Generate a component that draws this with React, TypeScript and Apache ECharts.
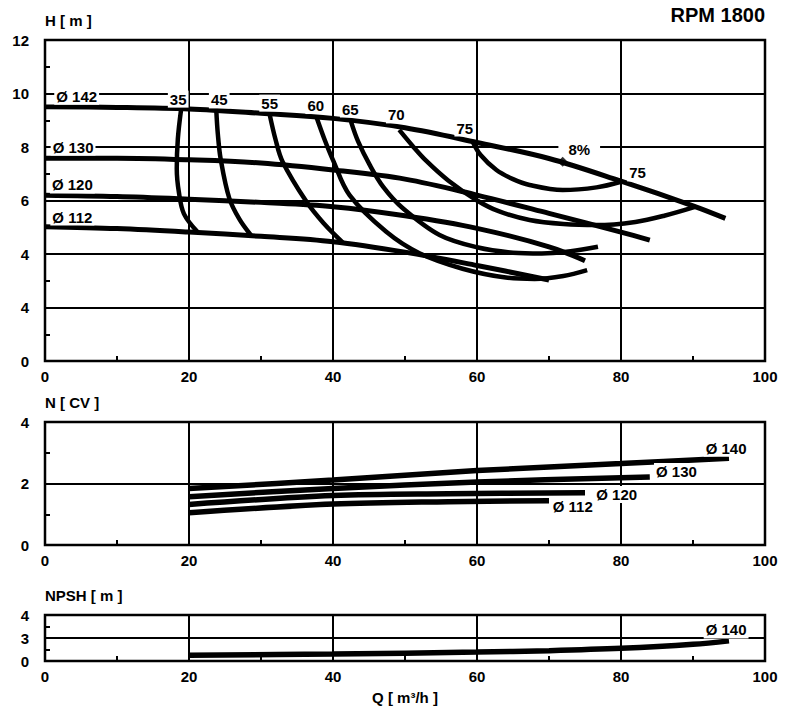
import React, { useEffect, useRef } from "react";
import * as echarts from "echarts";

const FONT = "'Liberation Sans', Arial, Helvetica, sans-serif";

// Flow axis (shared by the three panels)
const qTicks = [0, 20, 40, 60, 80, 100];

// Tick labels as printed on the sheet (values 0,2,4,... on the axes)
const headTickLabels = ["0", "4", "4", "6", "8", "10", "12"];
const powerTickLabels = ["0", "2", "4"];
const npshTickLabels = ["0", "3", "4"];

// Head curves H [m] vs Q [m3/h]
const head142 = [[0, 9.5], [10, 9.48], [20, 9.42], [30, 9.26], [40, 9.07], [50, 8.72], [60, 8.17], [70, 7.57], [80, 6.72], [90, 5.8], [94.5, 5.33]];
const head130 = [[0, 7.58], [10, 7.58], [20, 7.52], [30, 7.4], [40, 7.14], [50, 6.8], [60, 6.2], [70, 5.52], [80, 4.82], [84, 4.52]];
const head120 = [[0, 6.2], [10, 6.15], [20, 6.05], [30, 5.93], [40, 5.77], [50, 5.43], [60, 4.96], [70, 4.27], [75, 3.75]];
const head112 = [[0, 5.02], [10, 4.95], [20, 4.82], [30, 4.66], [40, 4.46], [50, 4.07], [60, 3.57], [70, 3.03]];

// Iso-efficiency curves
const eff35 = [[18.9, 9.4], [18.45, 8.3], [18.3, 7.2], [18.6, 6.3], [19.3, 5.5], [21.2, 4.82]];
const eff45 = [[23.8, 9.32], [24.0, 8.5], [24.4, 7.55], [25.6, 6.08], [27, 5.3], [28.6, 4.7]];
const eff55 = [[31.2, 9.22], [32, 8.3], [33, 7.45], [36.3, 5.96], [38.7, 5.15], [41.4, 4.42]];
const eff60 = [[37.7, 9.12], [38.8, 8.3], [40, 7.51], [42.3, 6.2], [47.4, 4.83], [52, 4.03], [58, 3.45], [64, 3.12], [68, 3.07], [72, 3.18], [75.3, 3.4]];
const eff65 = [[42.5, 8.95], [43.5, 8.2], [45.1, 7.33], [47, 6.5], [49.7, 5.71], [54.8, 4.71], [60, 4.25], [65, 4.05], [69, 4.02], [73, 4.1], [76.8, 4.27]];
const eff70 = [[49.2, 8.64], [51, 8.06], [53, 7.47], [56, 6.75], [59.9, 6.02], [63, 5.6], [67.3, 5.27], [72, 5.12], [76.6, 5.08], [82, 5.2], [86, 5.43], [90.4, 5.77]];
const eff75 = [[59.4, 8.2], [60.5, 7.7], [62.7, 7.14], [65, 6.8], [67.3, 6.58], [71.9, 6.39], [76.6, 6.49], [80, 6.7]];

// Power N [CV]
const pow140 = [[20, 1.84], [40, 2.11], [60, 2.42], [80, 2.65], [95, 2.82]];
const pow130 = [[20, 1.57], [40, 1.84], [60, 2.05], [84, 2.21]];
const pow120 = [[20, 1.32], [40, 1.61], [56, 1.67], [75, 1.7]];
const pow112 = [[20, 1.05], [40, 1.33], [56, 1.41], [70, 1.44]];

// NPSH [m]
const npsh140 = [[20, 0.5], [40, 0.6], [60, 0.78], [70, 0.9], [80, 1.1], [90, 1.45], [95, 1.75]];

// Annotations [Q, value, text]
const headLabels: [number, number, string][] = [
  [4.4, 9.9, "Ø 142"],
  [3.9, 8.0, "Ø 130"],
  [3.8, 6.58, "Ø 120"],
  [3.8, 5.38, "Ø 112"],
  [18.5, 9.79, "35"],
  [24.2, 9.76, "45"],
  [31.2, 9.64, "55"],
  [37.6, 9.55, "60"],
  [42.4, 9.42, "65"],
  [48.8, 9.2, "70"],
  [58.3, 8.71, "75"],
  [82.3, 7.03, "75"],
];
const markLabel: [number, number, string] = [74.2, 7.89, "8%"];
const markPointQH = [71.9, 7.45];
const powerLabels: [number, number, string][] = [
  [94.6, 3.15, "Ø 140"],
  [87.7, 2.39, "Ø 130"],
  [79.4, 1.64, "Ø 120"],
  [73.3, 1.25, "Ø 112"],
];
const npshLabels: [number, number, string][] = [[94.6, 2.7, "Ø 140"]];

const black = "#000";

function curve(data: number[][], idx: number, width: number) {
  return {
    type: "line",
    xAxisIndex: idx,
    yAxisIndex: idx,
    data,
    symbol: "none",
    showSymbol: false,
    smooth: 0.35,
    silent: true,
    z: 3,
    lineStyle: { color: black, width, cap: "butt" },
  };
}

function labels(items: [number, number, string][], idx: number, padding: number[] = [1, 2]) {
  return {
    type: "scatter",
    xAxisIndex: idx,
    yAxisIndex: idx,
    symbol: "circle",
    symbolSize: 0,
    silent: true,
    z: 10,
    itemStyle: { color: black, opacity: 1 },
    data: items.map(([q, v, t]) => ({ value: [q, v], label: { formatter: t } })),
    label: {
      show: true,
      position: "inside",
      color: black,
      opacity: 1,
      textBorderWidth: 0,
      textBorderColor: "transparent",
      fontFamily: FONT,
      fontWeight: "bold",
      fontSize: 15,
      backgroundColor: "#fff",
      padding,
    },
  };
}

function xAxis(gridIndex: number, extra: any = {}) {
  return {
    type: "value",
    gridIndex,
    min: qTicks[0],
    max: qTicks[qTicks.length - 1],
    interval: qTicks[1] - qTicks[0],
    axisLine: { show: false },
    axisTick: { show: false, inside: true },
    minorTick: { show: true, splitNumber: 2, length: 5, lineStyle: { color: black, width: 2 } },
    splitLine: { show: true, lineStyle: { color: black, width: 2 } },
    axisLabel: {
      color: black,
      fontFamily: FONT,
      fontWeight: "bold",
      fontSize: 15,
      margin: 8,
      formatter: (v: number) => String(qTicks[Math.round(v / (qTicks[1] - qTicks[0]))]),
    },
    ...extra,
  };
}

function yAxis(gridIndex: number, max: number, tickLabels: string[], name: string) {
  const interval = max / (tickLabels.length - 1);
  return {
    type: "value",
    gridIndex,
    min: 0,
    max,
    interval,
    name,
    nameLocation: "end",
    nameGap: 12,
    nameTextStyle: { align: "left", color: black, fontFamily: FONT, fontWeight: "bold", fontSize: 15 },
    axisLine: { show: false },
    axisTick: { show: false, inside: true },
    minorTick: { show: true, splitNumber: 2, length: 5, lineStyle: { color: black, width: 2 } },
    splitLine: { show: true, lineStyle: { color: black, width: 2 } },
    axisLabel: {
      color: black,
      fontFamily: FONT,
      fontWeight: "bold",
      fontSize: 15,
      margin: 16,
      formatter: (v: number) => tickLabels[Math.round(v / interval)],
    },
  };
}

export default function App() {
  const ref = useRef<HTMLDivElement>(null);
  useEffect(() => {
    if (!ref.current) return;
    const chart = echarts.init(ref.current, undefined, { renderer: "svg" });
    const gridBase = { show: true, left: 45, right: 25, borderColor: black, borderWidth: 2.5, containLabel: false };
    chart.setOption({
      animation: false,
      backgroundColor: "#fff",
      textStyle: { fontFamily: FONT },
      title: {
        text: "RPM 1800",
        right: 25,
        top: 5,
        padding: 0,
        textStyle: { color: black, fontFamily: FONT, fontWeight: "bold", fontSize: 20 },
      },
      grid: [
        { ...gridBase, top: 40, height: 321 },
        { ...gridBase, top: 422, height: 123 },
        { ...gridBase, top: 615, height: 46 },
      ],
      xAxis: [
        xAxis(0),
        xAxis(1),
        xAxis(2, {
          name: "Q [ m³/h ]",
          nameLocation: "middle",
          nameGap: 29,
          nameTextStyle: { color: black, fontFamily: FONT, fontWeight: "bold", fontSize: 15 },
        }),
      ],
      yAxis: [
        yAxis(0, 12, headTickLabels, "H [ m ]"),
        yAxis(1, 4, powerTickLabels, "N [ CV ]"),
        yAxis(2, 4, npshTickLabels, "NPSH [ m ]"),
      ],
      series: [
        curve(head142, 0, 5),
        curve(head130, 0, 5),
        curve(head120, 0, 5),
        curve(head112, 0, 5),
        curve(eff35, 0, 4.5),
        curve(eff45, 0, 4.5),
        curve(eff55, 0, 4.5),
        curve(eff60, 0, 4.5),
        curve(eff65, 0, 4.5),
        curve(eff70, 0, 4.5),
        curve(eff75, 0, 4.5),
        labels(headLabels, 0),
        labels([markLabel], 0, [0, 10]),
        {
          type: "scatter",
          xAxisIndex: 0,
          yAxisIndex: 0,
          symbol: "diamond",
          symbolSize: 10,
          silent: true,
          z: 12,
          itemStyle: { color: black },
          data: [markPointQH],
        },
        curve(pow140, 1, 5.5),
        curve(pow130, 1, 5.5),
        curve(pow120, 1, 5.5),
        curve(pow112, 1, 5.5),
        labels(powerLabels, 1),
        curve(npsh140, 2, 5.5),
        labels(npshLabels, 2),
      ],
    });
    return () => chart.dispose();
  }, []);
  return <div ref={ref} style={{ position: "absolute", left: 0, top: 0, width: 790, height: 715 }} />;
}
